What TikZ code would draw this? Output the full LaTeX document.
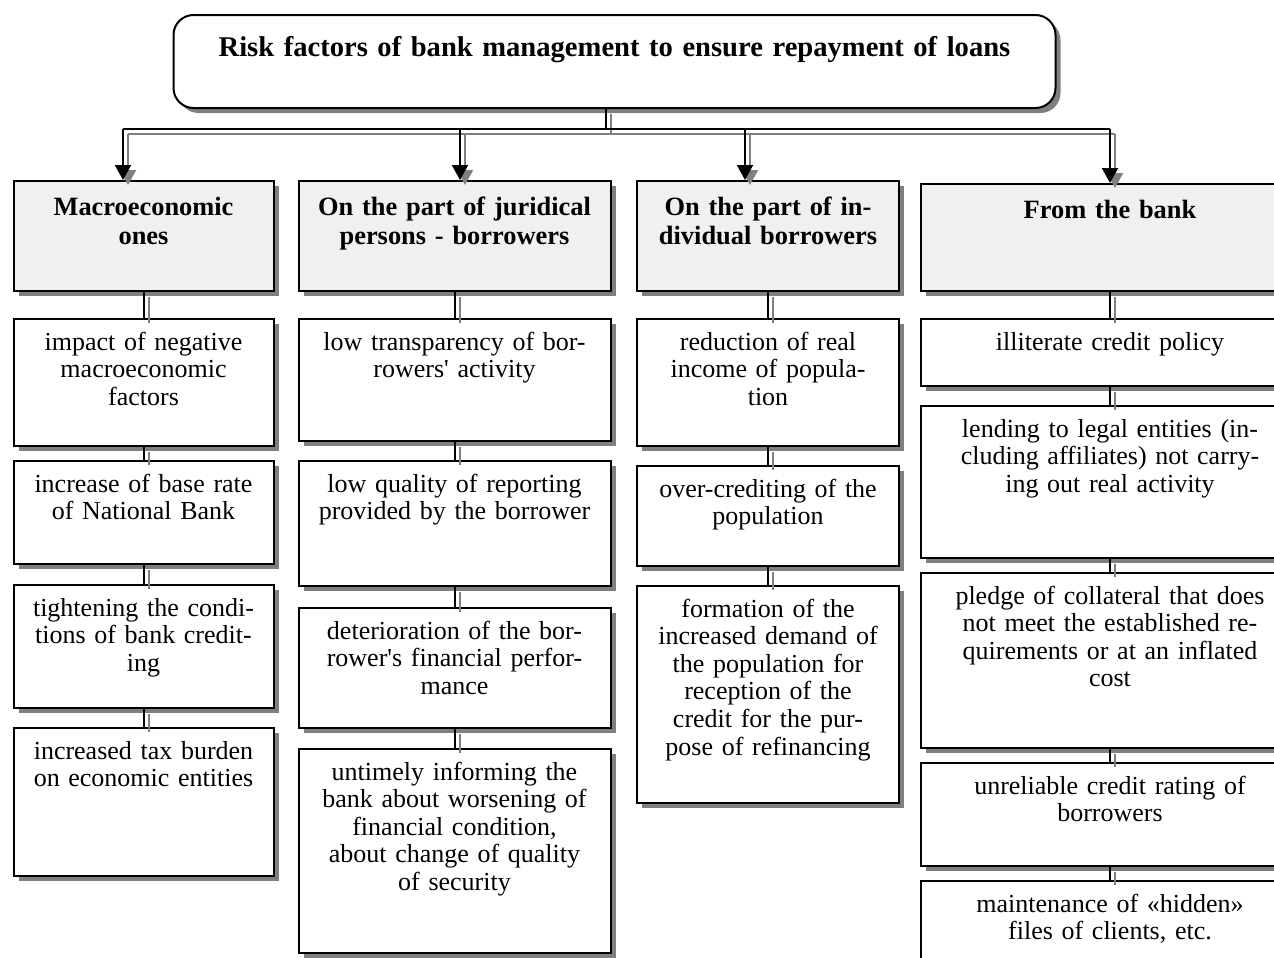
\documentclass[tikz,border=0pt]{standalone}
\usepackage{fontspec}
\setmainfont{Liberation Serif}
\usepackage{tikz}
\usetikzlibrary{shadows,arrows.meta}
\definecolor{headgray}{gray}{0.94}
\definecolor{shadegray}{gray}{0.5}

\begin{document}
\begin{tikzpicture}[x=0.5pt,y=-0.5pt]
  \tikzstyle{box}=[draw,line width=1pt,fill=white,align=center,anchor=north,inner xsep=3pt,inner ysep=0pt,
    font=\fontsize{13}{13.8}\selectfont,text height=15.5pt,
    drop shadow={shadow xshift=2.5pt,shadow yshift=-2.5pt,fill=shadegray,opacity=1}]
  \tikzstyle{head}=[box,fill=headgray,font=\fontsize{13.2}{14.6}\selectfont\bfseries,text height=17pt,text depth=38pt]
  \tikzstyle{link}=[line width=1pt]
  \tikzstyle{arr}=[link,-{Triangle[length=7.5pt,width=8pt]}]
  \useasboundingbox (0,0) rectangle (1274,958);

  \node[box,rounded corners=10pt,font=\fontsize{14.3}{16}\selectfont\bfseries,text width=435pt,text height=20.5pt,text depth=26pt] (title) at (614.5,14)
    {Risk factors of bank management to ensure repayment of loans};

  % macroeconomic
  \node[head,text width=124pt] (h1) at (143.5,180) {Macroeconomic\\ ones};
  \node[box,text width=124pt,text depth=48pt] (b11) at (143.5,318) {impact of negative\\ macroeconomic\\ factors};
  \node[box,text width=124pt,text depth=36pt] (b12) at (143.5,460) {increase of base rate\\ of National Bank};
  \node[box,text width=124pt,text depth=46pt] (b13) at (143.5,584) {tightening the condi-\\ tions of bank credit-\\ ing};
  \node[box,text width=124pt,text depth=58.5pt] (b14) at (143.5,727) {increased tax burden\\ on economic entities};

  % juridical persons
  \node[head,text width=150pt] (h2) at (454.5,180) {On the part of juridical\\ persons - borrowers};
  \node[box,text width=150pt,text depth=45.5pt] (b21) at (454.5,318) {low transparency of bor-\\ rowers\textquotesingle{} activity};
  \node[box,text width=150pt,text depth=47pt] (b22) at (454.5,460) {low quality of reporting\\ provided by the borrower};
  \node[box,text width=150pt,text depth=44.5pt] (b23) at (454.5,607) {deterioration of the bor-\\ rower\textquotesingle{}s financial perfor-\\ mance};
  \node[box,text width=150pt,text depth=86.5pt] (b24) at (454.5,748) {untimely informing the\\ bank about worsening of\\ financial condition,\\ about change of quality\\ of security};

  % individual borrowers
  \node[head,text width=125pt] (h3) at (768,180) {On the part of in-\\ dividual borrowers};
  \node[box,text width=125pt,text depth=48pt] (b31) at (768,318) {reduction of real\\ income of popula-\\ tion};
  \node[box,text width=125pt,text depth=34.5pt] (b32) at (768,465) {over-crediting of the\\ population};
  \node[box,text width=125pt,text depth=93pt] (b33) at (768,585) {formation of the\\ increased demand of\\ the population for\\ reception of the\\ credit for the pur-\\ pose of refinancing};

  % bank
  \node[head,text width=183pt,text depth=36.5pt] (h4) at (1110,183) {From the bank};
  \node[box,text width=183pt,text depth=18pt] (b41) at (1110,318) {illiterate credit policy};
  \node[box,text width=183pt,text depth=60.5pt] (b42) at (1110,405) {lending to legal entities (in-\\ cluding affiliates) not carry-\\ ing out real activity};
  \node[box,text width=183pt,text depth=72pt] (b43) at (1110,572) {pledge of collateral that does\\ not meet the established re-\\ quirements or at an inflated\\ cost};
  \node[box,text width=183pt,text depth=36pt] (b44) at (1110,762) {unreliable credit rating of\\ borrowers};
  \node[box,text width=183pt,text depth=39.5pt] (b45) at (1110,880) {maintenance of «hidden»\\ files of clients, etc.};

  \coordinate (bus) at (606,129);
  \foreach \n/\x in {1/123,2/460,3/745,4/1110}
    \coordinate (a\n) at (\x,129);

  % connectors, shadow first
  \foreach \c/\s in {shadegray/2.5pt,black/0pt}{
    \begin{scope}[color=\c,transform canvas={xshift=\s,yshift=-\s}]
      \draw[link] (title.south -| bus) -- (bus);
      \draw[link] (a1) -- (a4);
      \foreach \n in {1,...,4}
        \draw[arr] (a\n) -- (a\n |- h\n.north);
      \foreach \u/\v in {h1/b11,b11/b12,b12/b13,b13/b14,h2/b21,b21/b22,b22/b23,b23/b24,
          h3/b31,b31/b32,b32/b33,h4/b41,b41/b42,b42/b43,b43/b44,b44/b45}
        \draw[link] (\u.south) -- (\v.north);
    \end{scope}
  }
\end{tikzpicture}
\end{document}
